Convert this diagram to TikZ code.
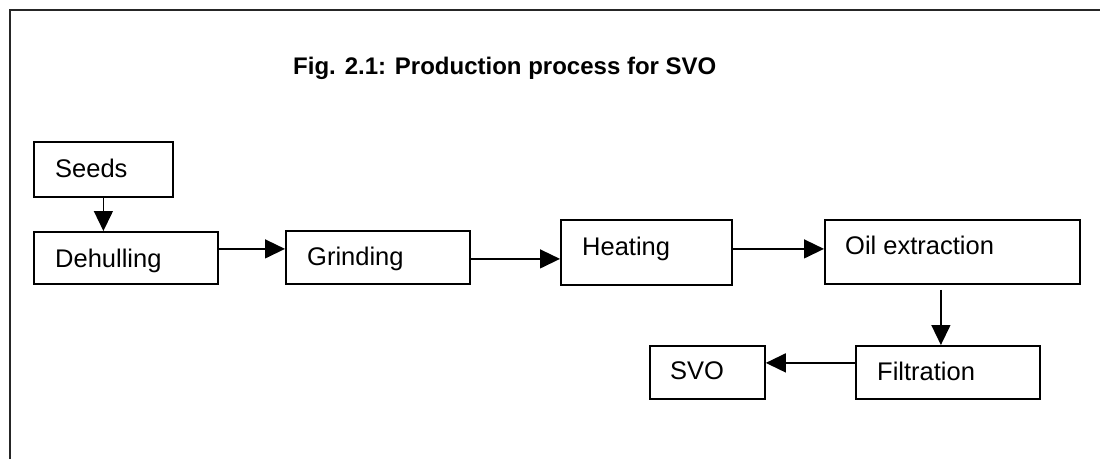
\documentclass[tikz,border=0pt]{standalone}
\usepackage{fontspec}
\setmainfont{Liberation Sans}
\usetikzlibrary{arrows.meta}
\begin{document}
\begin{tikzpicture}[x=1pt,y=-1pt,
  box/.style={draw=black,line width=1.8pt,rectangle,inner sep=0pt,anchor=north west},
  lbl/.style={anchor=base west,inner sep=0pt,font=\fontsize{25.5}{30}\selectfont},
  arr/.style={line width=1.4pt,-{Triangle[length=20pt,width=19pt]}},
  frame/.style={line width=2pt,draw=black!85}]
\useasboundingbox (0,0) rectangle (1100,459);
% outer frame
\draw[frame] (9.5,459) -- (9.5,10) -- (1100,10);
% title
\node[anchor=base west,inner sep=0pt,font=\fontsize{24}{28}\selectfont\bfseries] (title) at (293,74) {Fig. 2.1: Production process for SVO};
% boxes
\node[box,minimum width=139pt,minimum height=55pt] (seeds) at (33,141) {};
\node[box,minimum width=184pt,minimum height=52pt] (deh) at (33,231) {};
\node[box,minimum width=184pt,minimum height=53pt] (grind) at (285,230) {};
\node[box,minimum width=171pt,minimum height=65pt] (heat) at (560,219) {};
\node[box,minimum width=255pt,minimum height=64pt] (oil) at (824,219) {};
\node[box,minimum width=184pt,minimum height=53pt] (filt) at (855,345) {};
\node[box,minimum width=115pt,minimum height=53pt] (svo) at (649,345) {};
% labels
\node[lbl] (seedsT) at (55,177) {Seeds};
\node[lbl] (dehT) at (55,267) {Dehulling};
\node[lbl] (grindT) at (307,265) {Grinding};
\node[lbl] (heatT) at (582,255) {Heating};
\node[lbl] (oilT) at (845,254) {Oil extraction};
\node[lbl] (filtT) at (877,380) {Filtration};
\node[lbl] (svoT) at (670,379) {SVO};
% connectors
\draw[arr] (seeds.south) -- (seeds.south |- deh.north);
\draw[arr] ([yshift=9pt]deh.east) -- ([yshift=9pt]deh.east -| grind.west);
\draw[arr] ([yshift=-1.5pt]grind.east) -- ([yshift=-1.5pt]grind.east -| heat.west);
\draw[arr] ([yshift=3.5pt]heat.east) -- ([yshift=3.5pt]heat.east -| oil.west);
\draw[arr] ([xshift=-7pt,yshift=-5pt]filt.north |- oil.south) -- ([xshift=-7pt]filt.north);
\draw[arr] ([yshift=9.5pt]filt.west) -- ([yshift=9.5pt]filt.west -| svo.east);
\end{tikzpicture}
\end{document}
